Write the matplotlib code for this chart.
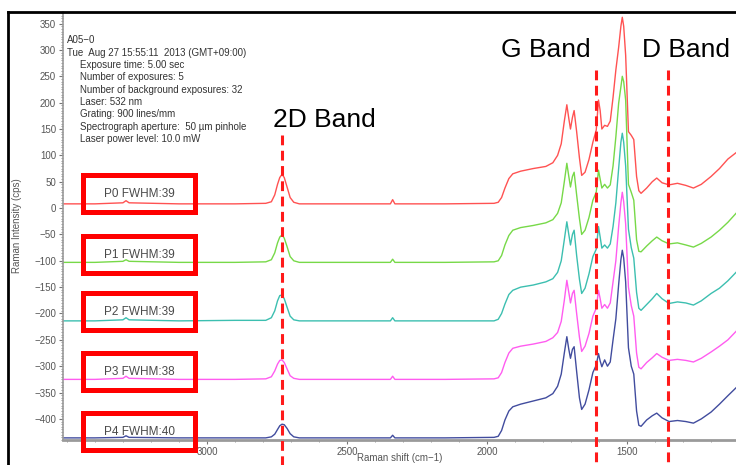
import matplotlib
matplotlib.use('Agg')
import matplotlib.pyplot as plt
from matplotlib.patches import Rectangle
from matplotlib.lines import Line2D
from matplotlib.ticker import MultipleLocator, FixedLocator
from matplotlib.transforms import Affine2D

plt.rcParams['font.family'] = ['Liberation Sans', 'DejaVu Sans']

# Raman shift grid (cm-1)
shift = [3514, 3400, 3300, 3289, 3278, 3100, 2900, 2790, 2770, 2758,
         2748, 2740, 2732, 2724, 2714, 2703, 2690, 2670, 2500, 2345,
         2337, 2329, 2150, 1975, 1960, 1948, 1936, 1922, 1908, 1880,
         1835, 1790, 1765, 1748, 1735, 1724, 1715, 1708, 1702, 1695,
         1689, 1680, 1670, 1662, 1650, 1636, 1622, 1610, 1602, 1596,
         1590, 1580, 1570, 1560, 1550, 1540, 1530, 1522, 1517, 1512,
         1505, 1495, 1485, 1476, 1466, 1458, 1450, 1430, 1410, 1394,
         1375, 1350, 1320, 1290, 1263, 1235, 1200, 1170, 1140, 1111]

p0 = [8, 8, 10, 14, 10, 8, 8, 9, 12, 25,
      45, 58, 64, 58, 40, 20, 11, 8, 8, 8,
      16, 8, 8, 9, 11, 20, 38, 56, 65, 70,
      75, 79, 86, 100, 122, 165, 196, 170, 150, 172,
      185, 145, 95, 62, 68, 92, 125, 148, 205, 185,
      150, 157, 155, 165, 210, 262, 305, 345, 362, 345,
      290, 145, 138, 130, 60, 33, 28, 38, 50, 57,
      48, 44, 47, 43, 38, 45, 60, 75, 93, 105]

p1 = [-103, -103, -101, -98, -101, -103, -103, -102, -98, -85,
      -66, -55, -51, -57, -73, -92, -100, -103, -103, -103,
      -97, -103, -103, -102, -100, -90, -70, -52, -42, -37,
      -33, -28, -22, -10, 10, 50, 85, 60, 40, 60,
      68, 25, -20, -50, -42, -18, 15, 30, 72, 55,
      38, 45, 38, 44, 80, 135, 199, 230, 250, 240,
      205, 45, 30, 15, -60, -82, -83, -72, -62, -55,
      -62, -68, -66, -70, -74, -67, -55, -42, -27, -10]

p2 = [-214, -214, -212, -208, -212, -214, -213, -213, -208, -195,
      -176, -166, -165, -172, -188, -205, -212, -214, -214, -214,
      -208, -214, -214, -214, -211, -200, -182, -164, -156, -150,
      -146, -140, -134, -122, -100, -60, -26, -50, -70, -50,
      -42, -90, -135, -162, -152, -125, -92, -78, -35, -55,
      -76, -70, -76, -68, -35, 10, 75, 125, 142, 125,
      80, -40, -75, -95, -160, -190, -194, -183, -172, -162,
      -172, -181, -178, -180, -184, -176, -162, -152, -138, -122]

p3 = [-325, -325, -323, -319, -323, -325, -325, -324, -320, -309,
      -296, -289, -288, -293, -305, -318, -323, -325, -325, -325,
      -319, -325, -325, -324, -322, -312, -293, -275, -266, -262,
      -258, -253, -246, -236, -215, -175, -137, -160, -180, -162,
      -156, -200, -245, -272, -262, -238, -205, -190, -156, -172,
      -190, -183, -190, -180, -140, -100, -35, 10, 30, 12,
      -30, -150, -185, -205, -275, -302, -305, -293, -284, -276,
      -283, -289, -287, -289, -292, -285, -273, -262, -250, -234]

p4 = [-436, -436, -435, -432, -435, -436, -436, -436, -434, -429,
      -420, -413, -410, -411, -418, -428, -434, -436, -436, -436,
      -431, -436, -436, -435, -433, -422, -402, -385, -377, -372,
      -366, -360, -352, -338, -315, -275, -244, -268, -285, -268,
      -263, -310, -360, -382, -372, -345, -312, -298, -276, -290,
      -301, -288, -300, -292, -250, -210, -145, -98, -80, -95,
      -140, -265, -300, -315, -385, -412, -414, -402, -394, -389,
      -398, -405, -403, -405, -408, -400, -387, -372, -356, -341]

series = [p0, p1, p2, p3, p4]
colors = ['#ff5252', '#77d948', '#3cbfb0', '#ff5cf0', '#414c9e']
labels = ['P0 FWHM:39', 'P1 FWHM:39', 'P2 FWHM:39', 'P3 FWHM:38', 'P4 FWHM:40']

# band marker lines and names
bands = ['2D Band', 'G Band', 'D Band']
band_pos = [2732, 1611, 1354]
band_top = [139, 262, 262]
band_text_x = [2582, 1791, 1291]
band_text_y = [154, 287, 287]

info = ['Exposure time: 5.00 sec',
        'Number of exposures: 5',
        'Number of background exposures: 32',
        'Laser: 532 nm',
        'Grating: 900 lines/mm',
        'Spectrograph aperture:  50 \u00b5m pinhole',
        'Laser power level: 10.0 mW']

W, H = 736, 465
fig = plt.figure(figsize=(W / 100, H / 100), dpi=100)
px = Affine2D().scale(1 / W, -1 / H).translate(0, 1) + fig.transFigure

ax = fig.add_axes([63 / W, 25 / H, (W - 63) / W, (440 - 12) / H])
for y, c in zip(series, colors):
    ax.plot(shift, y, color=c, lw=1.0)

ax.set_xlim(3514, 1111)
ax.set_ylim(-440, 372)

for s in ['top', 'right']:
    ax.spines[s].set_visible(False)
ax.spines['left'].set_color('#9a9a9a')
ax.spines['bottom'].set_color('#9a9a9a')
ax.spines['left'].set_linewidth(1.2)
ax.spines['bottom'].set_linewidth(2.0)

ax.xaxis.set_major_locator(FixedLocator([3000, 2500, 2000, 1500]))
ax.xaxis.set_minor_locator(MultipleLocator(100))
ax.yaxis.set_major_locator(MultipleLocator(50))
ax.yaxis.set_minor_locator(MultipleLocator(5))
ax.tick_params(which='major', length=3, width=0.8, color='#777777',
               labelsize=7, labelcolor='#555555', pad=2)
ax.tick_params(which='minor', length=1.5, width=0.6, color='#888888')

for name, x, top, tx, ty in zip(bands, band_pos, band_top, band_text_x, band_text_y):
    ax.plot([x, x], [top, -500], color='#ff1a1a', lw=2.2, ls=(0, (3.2, 1.8)),
            clip_on=False, zorder=3)
    ax.text(tx, ty, name, fontsize=19, ha='center', va='baseline',
            color='black', clip_on=False)

# header text from the instrument software
fig.text(67, 40, 'A05\u22120', transform=px, fontsize=7, va='center', color='#333333')
fig.text(67, 53, 'Tue  Aug 27 15:55:11  2013 (GMT+09:00)', transform=px,
         fontsize=7, va='center', color='#333333')
for i, line in enumerate(info):
    fig.text(80, 65 + i * 12.3, line, transform=px, fontsize=7, va='center',
             color='#333333')

fig.text(17, 226, 'Raman Intensity (cps)', transform=px, fontsize=7,
         rotation=90, ha='center', va='center', color='#555555')
fig.text(400, 458, 'Raman shift (cm\u22121)', transform=px, fontsize=7,
         ha='center', va='center', color='#555555')

# red label boxes
box_top = [175, 236, 293, 353, 413]
for t, lab in zip(box_top, labels):
    fig.patches.append(Rectangle((83, t), 112, 37, transform=px, fill=False,
                                 edgecolor='#ff0000', lw=3.6, zorder=5))
    fig.text(139, t + 19, lab, transform=px, fontsize=8.5, ha='center',
             va='center', color='#4a4a4a', zorder=6)

# window frame of the screenshot
fig.lines.append(Line2D([8, W + 5], [12, 12], transform=px, color='black', lw=2))
fig.lines.append(Line2D([8, 8], [12, H + 5], transform=px, color='black', lw=2))

fig.savefig('out.png', dpi=100)
